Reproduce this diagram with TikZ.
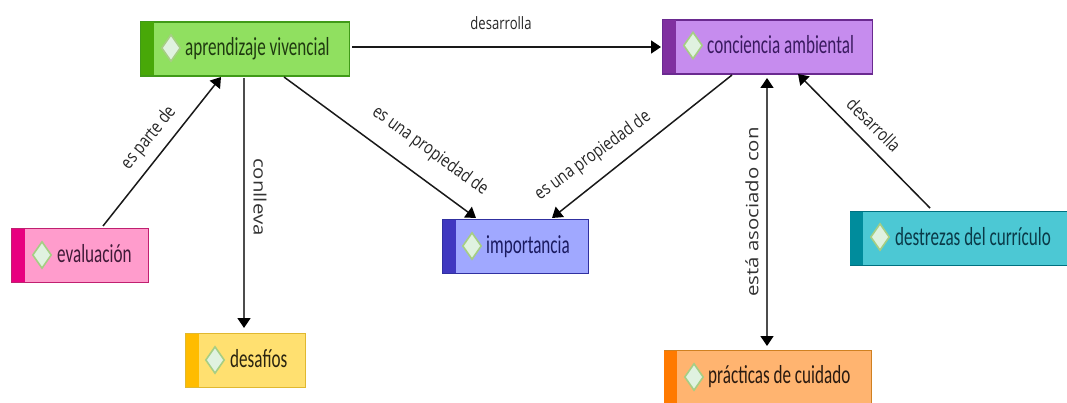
\documentclass[tikz,border=0pt]{standalone}
\usepackage{graphicx}
\usepackage{fontspec}
\setmainfont{Carlito}
\newfontfamily\lblfont[FakeStretch=0.8]{Open Sans}
\newfontfamily\lblnarrow[FakeStretch=0.77]{Open Sans}
\newfontfamily\lblwide[FakeStretch=1.2]{Open Sans}
\newcommand{\nodetxt}[1]{\scalebox{0.658}[1]{#1}}
\usetikzlibrary{shapes.geometric,arrows.meta}
\definecolor{gF}{HTML}{90E060}\definecolor{gS}{HTML}{48A808}\definecolor{gB}{HTML}{409A18}\definecolor{gT}{HTML}{1F3A10}
\definecolor{pF}{HTML}{C68CEE}\definecolor{pS}{HTML}{8030A0}\definecolor{pB}{HTML}{6A2A90}\definecolor{pT}{HTML}{3A1A60}
\definecolor{rF}{HTML}{FF9CCC}\definecolor{rS}{HTML}{E8007F}\definecolor{rB}{HTML}{C02070}\definecolor{rT}{HTML}{401A38}
\definecolor{yF}{HTML}{FFE070}\definecolor{yS}{HTML}{FFBC00}\definecolor{yB}{HTML}{E0B830}\definecolor{yT}{HTML}{2A2410}
\definecolor{tF}{HTML}{4CC8D4}\definecolor{tS}{HTML}{008C9C}\definecolor{tB}{HTML}{007080}\definecolor{tT}{HTML}{0A3A48}
\definecolor{oF}{HTML}{FFB470}\definecolor{oS}{HTML}{FF7A00}\definecolor{oB}{HTML}{D08020}\definecolor{oT}{HTML}{2A1A10}
\definecolor{bF}{HTML}{A0A8FF}\definecolor{bS}{HTML}{4038C0}\definecolor{bB}{HTML}{3030A0}\definecolor{bT}{HTML}{1A1A60}
\definecolor{diaF}{HTML}{E0F2E0}\definecolor{diaB}{HTML}{A6CE84}
\tikzset{
  x=1pt,y=-1pt,
  box/.style n args={3}{draw=#3,fill=#2,line width=1.2pt,inner sep=0pt,minimum width=#1,minimum height=54pt,anchor=north west},
  stripe/.style={draw=none,fill=#1,inner sep=0pt,minimum width=13pt,minimum height=53pt,anchor=north west},
  mark diamond/.style={diamond,draw=diaB,fill=diaF,line width=1.6pt,inner sep=0pt,minimum width=19pt,minimum height=27pt,aspect=0.7},
  ntext/.style={font=\fontsize{26}{28}\selectfont,inner sep=0pt,anchor=base west},
  lbl/.style={font=\lblfont\fontsize{18}{20}\selectfont,inner sep=0pt,text=black!85},
  lblN/.style={font=\lblnarrow\fontsize{17}{19}\selectfont,inner sep=0pt,text=black!85},
  lblW/.style={font=\lblwide\fontsize{17}{19}\selectfont,inner sep=0pt,text=black!80},
  conn/.style={draw=black!90,line width=1.5pt,-{Triangle[length=10pt,width=13pt,color=black]}},
  connV/.style={draw=black!70,line width=1.5pt,-{Triangle[length=10pt,width=13pt,color=black]}},
  conn2/.style={draw=black!70,line width=1.5pt,{Triangle[length=10pt,width=13pt,color=black]}-{Triangle[length=10pt,width=13pt,color=black]}},
}
\begin{document}
\begin{tikzpicture}
\useasboundingbox (0,0) rectangle (1067,403);
\clip (0,0) rectangle (1067,403);
% boxes
\node[box={209pt}{gF}{gB}] (apr) at (140,21.5) {};
\node[stripe=gS] (aprS) at (140.6,22) {};
\node[mark diamond] (aprD) at (171,48) {};
\node[ntext,text=gT] (aprT) at (185,56) {\nodetxt{aprendizaje vivencial}};

\node[box={210pt}{pF}{pB}] (con) at (662,19.5) {};
\node[stripe=pS] (conS) at (662.6,20) {};
\node[mark diamond] (conD) at (693,45.5) {};
\node[ntext,text=pT] (conT) at (707,53.5) {\nodetxt{conciencia ambiental}};

\node[box={137pt}{rF}{rB}] (eva) at (11,228) {};
\node[stripe=rS] (evaS) at (11.6,228.5) {};
\node[mark diamond] (evaD) at (42,255) {};
\node[ntext,text=rT] (evaT) at (57,262.5) {\nodetxt{evaluación}};

\node[box={120pt}{yF}{yB}] (des) at (185,333) {};
\node[stripe=yS] (desS) at (185.6,333.5) {};
\node[mark diamond] (desD) at (215,360) {};
\node[ntext,text=yT] (desT) at (230,367.5) {\nodetxt{desafíos}};

\node[box={146pt}{bF}{bB}] (imp) at (442,219) {};
\node[stripe=bS] (impS) at (442.6,219.5) {};
\node[mark diamond] (impD) at (472,246) {};
\node[ntext,text=bT] (impT) at (486,253) {\nodetxt{importancia}};

\node[box={222pt}{tF}{tB}] (dst) at (849.5,211) {};
\node[stripe=tS] (dstS) at (850,211.5) {};
\node[mark diamond] (dstD) at (880,237) {};
\node[ntext,text=tT] (dstT) at (895,245) {\nodetxt{destrezas del currículo}};

\node[box={207pt}{oF}{oB}] (pra) at (663.5,350) {};
\node[stripe=oS] (praS) at (664,350.5) {};
\node[mark diamond] (praD) at (694,377) {};
\node[ntext,text=oT] (praT) at (708,383.5) {\nodetxt{prácticas de cuidado}};

% connector ends
\coordinate (a1) at (352,47); \coordinate (c1) at (661,47);
\coordinate (e1) at (103,226); \coordinate (a2) at (221,77);
\coordinate (a3) at (244,78); \coordinate (d1) at (244,328);
\coordinate (a4) at (284,77); \coordinate (i1) at (476,218);
\coordinate (c2) at (732,75); \coordinate (i2) at (552,218);
\coordinate (c3) at (767,78); \coordinate (p1) at (767,346);
\coordinate (t1) at (930,208); \coordinate (c4) at (798,74);
\draw[conn] (a1) -- (c1);
\draw[conn] (e1) -- (a2);
\draw[connV] (a3) -- (d1);
\draw[conn] (a4) -- (i1);
\draw[conn] (c2) -- (i2);
\draw[conn2] (c3) -- (p1);
\draw[conn] (t1) -- (c4);
% labels
\node[lblN] (l1) at (501,23) {desarrolla};
\node[lbl,rotate=51] (l2) at (149,138) {es parte de};
\node[lblW,rotate=-90] (l3) at (260,197) {conlleva};
\node[lbl,rotate=-36] (l4) at (430,151) {es una propiedad de};
\node[lbl,rotate=36] (l5) at (593,156) {es una propiedad de};
\node[lblW,rotate=90] (l6) at (752,212) {está asociado con};
\node[lbl,rotate=-45] (l7) at (874,125) {desarrolla};
\end{tikzpicture}
\end{document}
